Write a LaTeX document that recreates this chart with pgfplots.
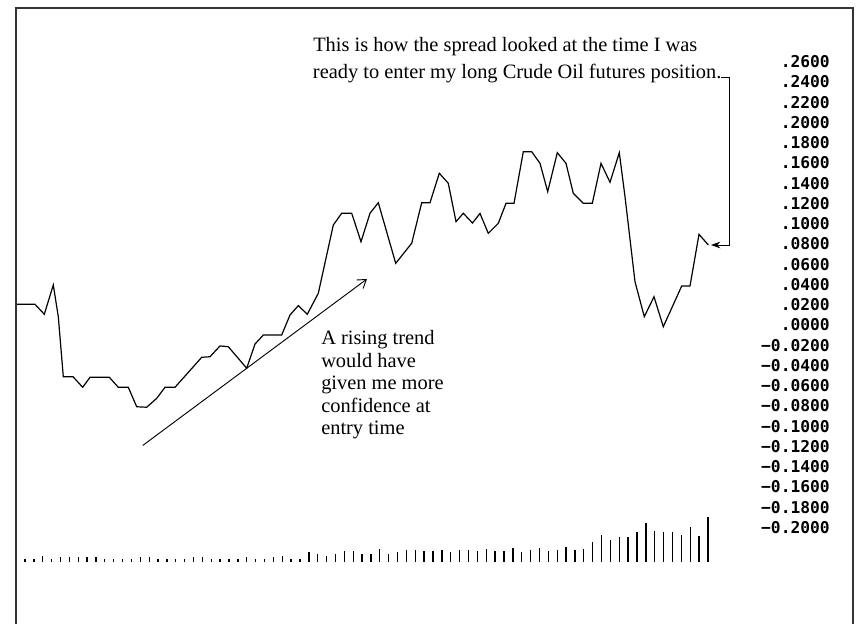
\documentclass[border=0pt]{standalone}
\usepackage{fontspec}
\setmainfont{Liberation Serif}
\newfontfamily\tickfont{DejaVu Sans Mono}
\usepackage{pgfplots}
\pgfplotsset{compat=1.18}
\usetikzlibrary{arrows.meta}

% one screen pixel = 0.75pt; the box runs from pixel 16 to 853 across, 8 to 624 down
\pgfplotsset{
  chartbox/.style={
    scale only axis, width=627.75pt, height=462pt,
    xmin=16, xmax=853,
    axis line style={draw=none},
    xtick=\empty,
    clip=false,
  }
}

% spread, x = horizontal position on the chart
\pgfplotstableread{
pos spread
16 0.0204
35 0.0204
44.3 0.0106
53.3 0.0395
58.3 0.0082
63.3 -0.0510
73 -0.0510
82.7 -0.0615
90 -0.0516
109.3 -0.0516
118.3 -0.0615
128.3 -0.0615
136.7 -0.0807
146.7 -0.0812
156.7 -0.0724
165 -0.0615
175 -0.0615
201.7 -0.0319
210 -0.0313
220 -0.0207
228.3 -0.0214
246.7 -0.0427
255 -0.0188
263.3 -0.0099
281.7 -0.0099
290 0.0099
298.3 0.0191
307.3 0.0106
318.3 0.0313
333.3 0.0987
341.7 0.1103
351.7 0.1103
361 0.0822
370 0.1103
378.3 0.1207
395.7 0.0609
411.7 0.0807
421.7 0.1207
430 0.1207
439.3 0.1498
448.3 0.1399
456 0.1020
463.3 0.1103
472.5 0.1007
480 0.1101
488.3 0.0905
498.3 0.1004
506 0.1201
514 0.1201
523.3 0.1711
531.7 0.1711
540 0.1596
547.7 0.1316
557.3 0.1701
566 0.1596
573.3 0.1300
583.3 0.1201
592.3 0.1201
601 0.1596
610 0.1409
619.3 0.1701
625 0.1267
635 0.0427
644.3 0.0082
654 0.0279
663.3 -0.0017
681.7 0.0385
690 0.0385
699 0.0895
708.3 0.0790
}\spreaddata

% volume, one bar per day
\pgfplotstableread{
day vol
0 3
1 3
2 6
3 3
4 5
5 5
6 5
7 5
8 5
9 3
10 3
11 3
12 3
13 5
14 5
15 3
16 3
17 3
18 3
19 5
20 5
21 3
22 3
23 3
24 3
25 5
26 3
27 3
28 5
29 6
30 3
31 3
32 10
33 8
34 6
35 8
36 11
37 11
38 8
39 8
40 13
41 8
42 10
43 12
44 12
45 11
46 11
47 12
48 10
49 12
50 12
51 11
52 13
53 11
54 11
55 14
56 10
57 12
58 14
59 11
60 12
61 15
62 12
63 13
64 20
65 27
66 22
67 25
68 25
69 30
70 39
71 31
72 30
73 30
74 27
75 35
76 26
77 45
}\voldata

\begin{document}
\begin{tikzpicture}
% volume bars, baseline at pixel row 562
\begin{axis}[chartbox, xmin=-1.015, xmax=93.35, ymin=-62, ymax=554, ytick=\empty]
\addplot[ycomb, black, line width=1pt, mark=none] table[x=day, y=vol] {\voldata};
\end{axis}

\begin{axis}[chartbox,
  ymin=-0.29516, ymax=0.31293,
  ytick={-0.2,-0.18,-0.16,-0.14,-0.12,-0.1,-0.08,-0.06,-0.04,-0.02,0,
         0.02,0.04,0.06,0.08,0.1,0.12,0.14,0.16,0.18,0.2,0.22,0.24,0.26},
  yticklabels={−0.2000,−0.1800,−0.1600,−0.1400,−0.1200,−0.1000,−0.0800,
               −0.0600,−0.0400,−0.0200,.0000,.0200,.0400,.0600,.0800,.1000,
               .1200,.1400,.1600,.1800,.2000,.2200,.2400,.2600},
  yticklabel pos=right,
  major tick length=0pt,
  yticklabel style={anchor=east, inner sep=0pt, xshift=-17.25pt,
    font=\tickfont\bfseries\fontsize{12.2}{13}\selectfont},
]
\addplot[black, line width=0.9pt] table[x=pos, y=spread] {\spreaddata};
\draw[black!80, line width=0.8pt] (rel axis cs:0,0) -- (rel axis cs:0,1)
  -- (rel axis cs:1,1) -- (rel axis cs:1,0);
\end{axis}

% notes, in pixel coordinates of the page
\begin{scope}[x=0.75pt, y=-0.75pt, shift={(-16,-624)}]
\path (0,0) rectangle (857,624);
\begin{scope}[every node/.style={anchor=base west, inner sep=0pt,
    font=\fontsize{15.3}{17}\selectfont}]
\node at (313,51.7) {This is how the spread looked at the time I was};
\node at (312.7,78.3) {ready to enter my long Crude Oil futures position.};
\node at (321,345) {A rising trend};
\node at (321,367.5) {would have};
\node at (321,390) {given me more};
\node at (321,412.5) {confidence at};
\node at (321,435) {entry time};
\end{scope}
\draw[line width=0.7pt, -{Stealth[length=7pt,width=5pt]}]
  (721,77) -- (729.5,77) -- (729.5,245) -- (711,245);
\draw[line width=0.7pt, -{Straight Barb[length=6pt,width=8pt]}]
  (142.7,445.5) -- (367,279);
\end{scope}
\end{tikzpicture}
\end{document}
